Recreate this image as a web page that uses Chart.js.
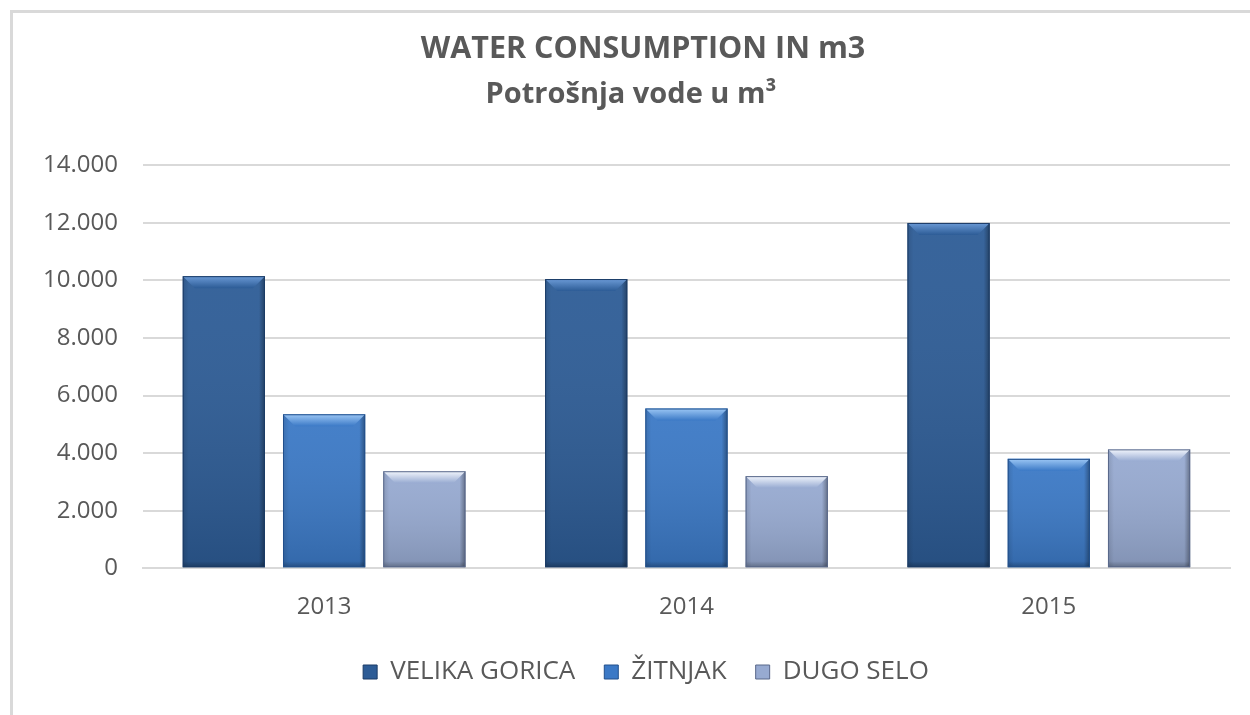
<!DOCTYPE html>
<html>
<head>
<meta charset="utf-8">
<script src="https://cdn.jsdelivr.net/npm/chart.js@4/dist/chart.umd.min.js"></script>
<style>
  html, body { margin: 0; padding: 0; background: #fff; }
  .frame {
    position: absolute; left: 10px; top: 10px; width: 1240px; height: 705px;
    border-left: 3px solid #d9d9d9; border-top: 3px solid #d9d9d9;
    box-sizing: border-box;
  }
  .wrap { position: absolute; left: 0; top: 0; width: 1250px; height: 715px; }
</style>
</head>
<body>
<div class="frame"></div>
<div class="wrap"><canvas id="c" width="1250" height="715"></canvas></div>
<script>
// ── Data ─────────────────────────────────────────────
const years = ['2013', '2014', '2015'];
const velikaGorica = [10150, 10050, 12000];
const zitnjak      = [5350, 5550, 3800];
const dugoSelo     = [3370, 3200, 4130];
const yTicks = [0, 2000, 4000, 6000, 8000, 10000, 12000, 14000];
const titleText = 'WATER CONSUMPTION IN m3';
const subtitleText = 'Potrošnja vode u m³';

// body colour, light bevel, dark edge per series
const STYLES = [
  { body: '#2d5c96', light: '#6b9ad6', dark: '#1b3b66' },
  { body: '#3b79c6', light: '#9cc7f5', dark: '#22508c' },
  { body: '#97aad1', light: '#f2f6fd', dark: '#59688a' },
];

const GREY = '#595959';
const FONT = '"Open Sans", "Noto Sans", sans-serif';

// ── Bevel look for the bars ─────────────────────────
const bevelPlugin = {
  id: 'bevel',
  afterDatasetsDraw(chart) {
    const { ctx } = chart;
    chart.data.datasets.forEach((ds, di) => {
      const st = STYLES[di];
      chart.getDatasetMeta(di).data.forEach(bar => {
        const l = bar.x - bar.width / 2, r = bar.x + bar.width / 2;
        const t = bar.y, b = bar.base;
        const bv = 12;
        ctx.save();
        // vertical shading
        const g = ctx.createLinearGradient(0, t, 0, b);
        g.addColorStop(0, 'rgba(255,255,255,0.05)');
        g.addColorStop(1, 'rgba(0,0,0,0.14)');
        ctx.fillStyle = g;
        ctx.fillRect(l, t, r - l, b - t);
        // left bevel
        const lg = ctx.createLinearGradient(l, 0, l + 6, 0);
        lg.addColorStop(0, 'rgba(0,0,0,0.12)');
        lg.addColorStop(1, 'rgba(0,0,0,0)');
        ctx.fillStyle = lg;
        ctx.fillRect(l, t, 6, b - t);
        // right bevel
        const rg = ctx.createLinearGradient(r - 6, 0, r, 0);
        rg.addColorStop(0, 'rgba(0,0,0,0)');
        rg.addColorStop(1, 'rgba(0,0,0,0.35)');
        ctx.fillStyle = rg;
        ctx.fillRect(r - 6, t, 6, b - t);
        // bottom bevel
        const bg = ctx.createLinearGradient(0, b - 6, 0, b);
        bg.addColorStop(0, 'rgba(0,0,0,0)');
        bg.addColorStop(1, 'rgba(0,0,0,0.25)');
        ctx.fillStyle = bg;
        ctx.fillRect(l, b - 6, r - l, 6);
        // top bevel
        const tg = ctx.createLinearGradient(0, t, 0, t + bv);
        tg.addColorStop(0, st.light);
        tg.addColorStop(1, st.body);
        ctx.fillStyle = tg;
        ctx.beginPath();
        ctx.moveTo(l, t); ctx.lineTo(r, t);
        ctx.lineTo(r - bv, t + bv); ctx.lineTo(l + bv, t + bv);
        ctx.closePath(); ctx.fill();
        ctx.strokeStyle = st.dark;
        ctx.lineWidth = 1;
        ctx.strokeRect(l + 0.5, t + 0.5, r - l - 1, b - t - 1);
        ctx.restore();
      });
    });
  },
};

// nudge title, subtitle and legend a little right, as in the original
const nudgePlugin = {
  id: 'nudge',
  afterLayout(chart) {
    const shift = (box, dx) => { if (box) { box.left += dx; box.right += dx; } };
    shift(chart.legend, 22);
    shift(chart.titleBlock, 19);
    shift(chart.boxes.find(b => b.options && b.options.text === subtitleText), 7);
  },
};

const mkSet = (label, data, i) => ({
  label, data,
  backgroundColor: STYLES[i].body,
  borderWidth: 0,
  barPercentage: 0.82,
  categoryPercentage: 0.83,
});

new Chart(document.getElementById('c'), {
  type: 'bar',
  plugins: [bevelPlugin, nudgePlugin],
  data: {
    labels: years,
    datasets: [
      mkSet('VELIKA GORICA', velikaGorica, 0),
      mkSet('ŽITNJAK', zitnjak, 1),
      mkSet('DUGO SELO', dugoSelo, 2),
    ],
  },
  options: {
    responsive: false,
    animation: false,
    layout: { padding: { left: 18, right: 20, top: 31, bottom: 20 } },
    plugins: {
      title: {
        display: true,
        text: titleText,
        color: GREY,
        font: { family: FONT, size: 30.5, weight: 'bold' },
        padding: { top: 0, bottom: 10 },
      },
      subtitle: {
        display: true,
        text: subtitleText,
        color: GREY,
        font: { family: FONT, size: 29, weight: 'bold' },
        padding: { top: 0, bottom: 53 },
      },
      legend: {
        position: 'bottom',
        labels: {
          color: GREY,
          font: { family: FONT, size: 26 },
          boxWidth: 14,
          boxHeight: 14,
          padding: 29,
          generateLabels(chart) {
            return chart.data.datasets.map((ds, i) => ({
              text: ds.label,
              fillStyle: STYLES[i].body,
              strokeStyle: STYLES[i].dark,
              lineWidth: 1,
              datasetIndex: i,
              fontColor: GREY,
            }));
          },
        },
      },
      tooltip: { enabled: false },
    },
    scales: {
      x: {
        grid: { display: false },
        border: { color: '#d9d9d9', width: 2 },
        ticks: { color: GREY, font: { family: FONT, size: 24 }, padding: 17 },
        afterFit(axis) { axis.height -= 9; },
      },
      y: {
        min: 0,
        max: 14000,
        afterBuildTicks(axis) { axis.ticks = yTicks.map(v => ({ value: v })); },
        grid: { color: '#d9d9d9', lineWidth: 2, drawTicks: false },
        border: { display: false },
        ticks: {
          color: GREY,
          font: { family: FONT, size: 24 },
          padding: 25,
          callback: v => v.toLocaleString('de-DE'),
        },
      },
    },
  },
});
</script>
</body>
</html>
